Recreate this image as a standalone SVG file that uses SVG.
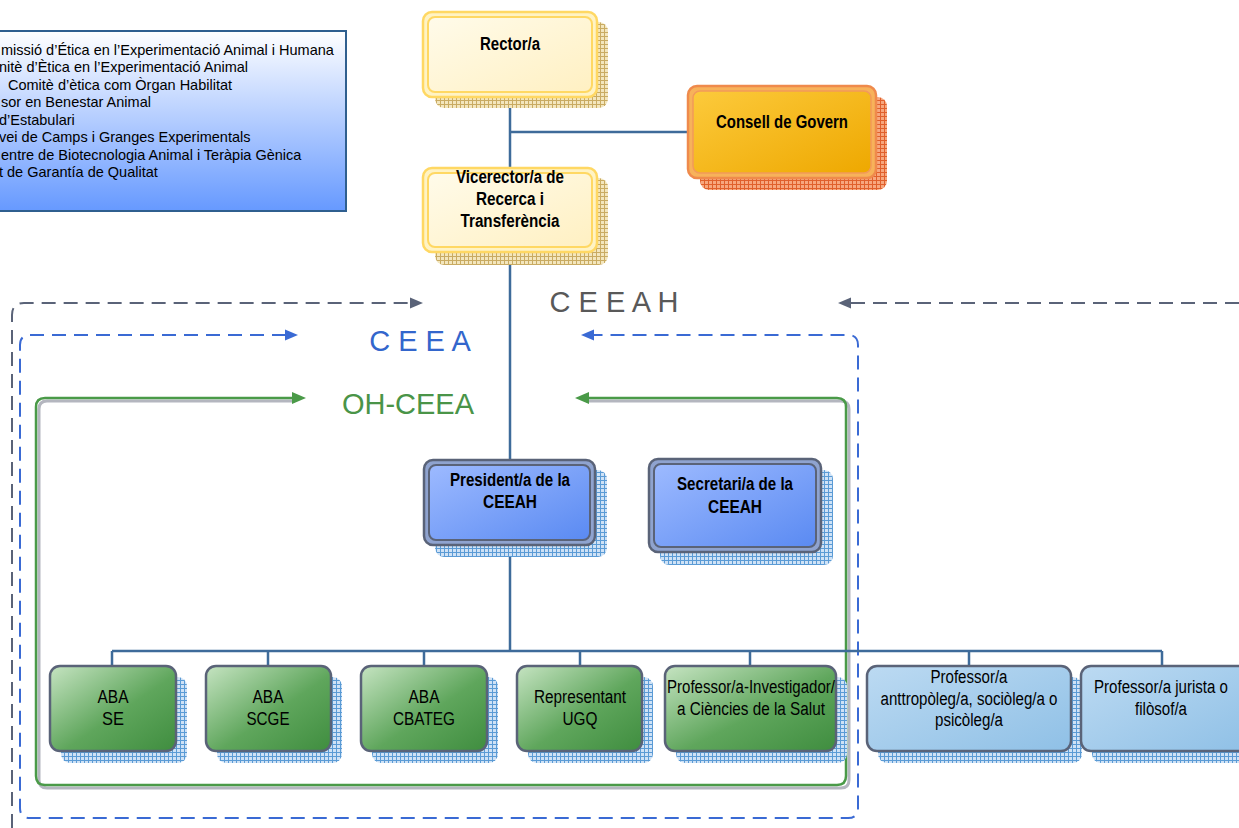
<svg xmlns="http://www.w3.org/2000/svg" width="1239" height="828" viewBox="0 0 1239 828">
<defs>
<style>
text{font-family:"Liberation Sans",Arial,sans-serif;fill:#000}
.b{font-weight:bold;font-size:18px;text-anchor:middle}
.n{font-size:18px;text-anchor:middle}
.lg{font-size:14.5px}
.big{font-size:29px;text-anchor:middle}
.conn{stroke:#3e6b9a;stroke-width:2.5;fill:none}
.gbox{stroke:#5a6378;stroke-width:2.5;fill:url(#gGreen)}
.lbox{stroke:#5a6378;stroke-width:2.5;fill:url(#gLight)}
.shB{fill:url(#hB)}
.shT{fill:url(#hT)}
.shO{fill:url(#hO)}
</style>
<pattern id="hB" width="4" height="4" patternUnits="userSpaceOnUse"><rect width="4" height="4" fill="#cfe2f6"/><path d="M0 0.5H4M0.5 0V4" stroke="#5b9bd5" stroke-width="1"/></pattern>
<pattern id="hT" width="4" height="4" patternUnits="userSpaceOnUse"><rect width="4" height="4" fill="#f3e6bd"/><path d="M0 0.5H4M0.5 0V4" stroke="#c9ab62" stroke-width="1"/></pattern>
<pattern id="hO" width="4" height="4" patternUnits="userSpaceOnUse"><rect width="4" height="4" fill="#f7a77e"/><path d="M0 0.5H4M0.5 0V4" stroke="#e0602c" stroke-width="1"/></pattern>
<linearGradient id="gLegend" x1="0" y1="0" x2="0" y2="1"><stop offset="0" stop-color="#ffffff"/><stop offset="1" stop-color="#6699ff"/></linearGradient>
<linearGradient id="gYellow" x1="0" y1="0" x2="1" y2="1"><stop offset="0" stop-color="#fffbea"/><stop offset="1" stop-color="#fff0c2"/></linearGradient>
<linearGradient id="gOrange" x1="0" y1="0" x2="1" y2="1"><stop offset="0" stop-color="#fcca3c"/><stop offset="1" stop-color="#eea800"/></linearGradient>
<linearGradient id="gBlue" x1="0" y1="0" x2="1" y2="1"><stop offset="0" stop-color="#9dbaff"/><stop offset="1" stop-color="#5a8af2"/></linearGradient>
<linearGradient id="gGreen" x1="0" y1="0" x2="1" y2="1"><stop offset="0" stop-color="#c6e4c2"/><stop offset="0.55" stop-color="#5fa65c"/><stop offset="1" stop-color="#3f8d3f"/></linearGradient>
<linearGradient id="gLight" x1="0" y1="0" x2="1" y2="1"><stop offset="0" stop-color="#bcdaf2"/><stop offset="1" stop-color="#8fc0e6"/></linearGradient>
</defs>

<g id="legend">
<rect x="-10" y="31" width="356" height="180" fill="url(#gLegend)" stroke="#2f5f8f" stroke-width="2"/>
<text class="lg" x="1" y="55">missió d’Ética en l’Experimentació Animal i Humana</text>
<text class="lg" x="-1" y="72">nitè d’Ètica en l’Experimentació Animal</text>
<text class="lg" x="8" y="90">Comitè d’ètica com Òrgan Habilitat</text>
<text class="lg" x="1" y="107">sor en Benestar Animal</text>
<text class="lg" x="-1" y="125">d’Estabulari</text>
<text class="lg" x="-1" y="142">vei de Camps i Granges Experimentals</text>
<text class="lg" x="1" y="160">entre de Biotecnologia Animal i Teràpia Gènica</text>
<text class="lg" x="-1" y="177">t de Garantía de Qualitat</text>
</g>

<g id="frames">
<path d="M12 828V315Q12 303 24 303H411" fill="none" stroke="#5a6378" stroke-width="2" stroke-dasharray="14 8"/>
<polygon points="423,303 410,297.5 410,308.5" fill="#5a6378"/>
<path d="M1239 303H850" fill="none" stroke="#5a6378" stroke-width="2" stroke-dasharray="14 8"/>
<polygon points="838,303 851,297.5 851,308.5" fill="#5a6378"/>
<text class="big" x="614" y="312" style="fill:#595959">C E E A H</text>
<path d="M286 335H30Q20 335 20 345V808Q20 818 30 818H848Q858 818 858 808V345Q858 335 848 335H593" fill="none" stroke="#3a6ad4" stroke-width="2" stroke-dasharray="14 8"/>
<polygon points="298,335 285,329.5 285,340.5" fill="#3a6ad4"/>
<polygon points="581,335 594,329.5 594,340.5" fill="#3a6ad4"/>
<text class="big" x="420" y="351" style="fill:#3366cc">C E E A</text>
<path d="M295 401H47Q39 401 39 409V780Q39 788 47 788H841Q849 788 849 780V409Q849 401 841 401H586" fill="none" stroke="#b4b6bf" stroke-width="3"/>
<path d="M293 398H45Q36 398 36 407V776Q36 785 45 785H837Q846 785 846 776V407Q846 398 837 398H588" fill="none" stroke="#4a9a48" stroke-width="2.5"/>
<polygon points="306,398 292,392 292,404" fill="#4a9a48"/>
<polygon points="575,398 589,392 589,404" fill="#4a9a48"/>
<text class="big" x="408" y="414" style="fill:#4a9448">OH-CEEA</text>
</g>

<g id="connectors">
<path class="conn" d="M510 97V168M510 132H688M510 252V460M510 545V651M112 651H1162M112 651V666M268 651V666M424 651V666M580 651V666M750 651V666M969 651V666M1162 651V666"/>
</g>

<g id="rector">
<rect class="shT" x="435" y="22" width="173" height="86" rx="9"/>
<rect x="423" y="12" width="174" height="85" rx="9" fill="#fff3c4" stroke="#ffd863" stroke-width="2.5"/>
<rect x="428" y="17" width="164" height="75" rx="7" fill="url(#gYellow)" stroke="#ffd863" stroke-width="2"/>
<text class="b" x="510" y="49.5" textLength="60" lengthAdjust="spacingAndGlyphs">Rector/a</text>
</g>

<g id="vicerector">
<rect class="shT" x="435" y="178" width="173" height="87" rx="9"/>
<rect x="423" y="168" width="174" height="84" rx="9" fill="#fff3c4" stroke="#ffd863" stroke-width="2.5"/>
<rect x="428" y="173" width="164" height="74" rx="7" fill="url(#gYellow)" stroke="#ffd863" stroke-width="2"/>
<text class="b" x="510" y="182.5" textLength="108" lengthAdjust="spacingAndGlyphs">Vicerector/a de</text>
<text class="b" x="510" y="205" textLength="68" lengthAdjust="spacingAndGlyphs">Recerca i</text>
<text class="b" x="510" y="226.5" textLength="99" lengthAdjust="spacingAndGlyphs">Transferència</text>
</g>

<g id="consell">
<rect class="shO" x="700" y="97" width="187" height="93" rx="9"/>
<rect x="688" y="86" width="188" height="92" rx="9" fill="#f7b25a" stroke="#ef8a4c" stroke-width="2.5"/>
<rect x="693" y="91" width="178" height="82" rx="7" fill="url(#gOrange)" stroke="#f29a5a" stroke-width="1.5"/>
<text class="b" x="782" y="127.5" textLength="132" lengthAdjust="spacingAndGlyphs">Consell de Govern</text>
</g>

<g id="president">
<rect class="shB" x="435" y="470" width="172" height="87" rx="9"/>
<rect x="424" y="460" width="171" height="85" rx="9" fill="#8fa3cf" stroke="#5a6378" stroke-width="2.5"/>
<rect x="429" y="465" width="161" height="75" rx="7" fill="url(#gBlue)" stroke="#5a6378" stroke-width="2"/>
<text class="b" x="510" y="485.5" textLength="120" lengthAdjust="spacingAndGlyphs">President/a de la</text>
<text class="b" x="510" y="507.5" textLength="54" lengthAdjust="spacingAndGlyphs">CEEAH</text>
</g>

<g id="secretari">
<rect class="shB" x="660" y="470" width="173" height="95" rx="9"/>
<rect x="649" y="459" width="172" height="93" rx="9" fill="#8fa3cf" stroke="#5a6378" stroke-width="2.5"/>
<rect x="654" y="464" width="162" height="83" rx="7" fill="url(#gBlue)" stroke="#5a6378" stroke-width="2"/>
<text class="b" x="735" y="489.5" textLength="116" lengthAdjust="spacingAndGlyphs">Secretari/a de la</text>
<text class="b" x="735" y="512.5" textLength="54" lengthAdjust="spacingAndGlyphs">CEEAH</text>
</g>

<g id="aba-se">
<rect class="shB" x="61" y="677" width="126" height="86" rx="9"/>
<rect class="gbox" x="50" y="666" width="126" height="85" rx="10"/>
<text class="n" x="113" y="702.5" textLength="31" lengthAdjust="spacingAndGlyphs">ABA</text>
<text class="n" x="113" y="724.5" textLength="22" lengthAdjust="spacingAndGlyphs">SE</text>
</g>

<g id="aba-scge">
<rect class="shB" x="217" y="677" width="125" height="86" rx="9"/>
<rect class="gbox" x="206" y="666" width="125" height="85" rx="10"/>
<text class="n" x="268" y="702.5" textLength="31" lengthAdjust="spacingAndGlyphs">ABA</text>
<text class="n" x="268" y="724.5" textLength="43" lengthAdjust="spacingAndGlyphs">SCGE</text>
</g>

<g id="aba-cbateg">
<rect class="shB" x="372" y="677" width="126" height="86" rx="9"/>
<rect class="gbox" x="361" y="666" width="126" height="85" rx="10"/>
<text class="n" x="424" y="702.5" textLength="31" lengthAdjust="spacingAndGlyphs">ABA</text>
<text class="n" x="424" y="724.5" textLength="62" lengthAdjust="spacingAndGlyphs">CBATEG</text>
</g>

<g id="representant">
<rect class="shB" x="528" y="677" width="125" height="86" rx="9"/>
<rect class="gbox" x="517" y="666" width="125" height="85" rx="10"/>
<text class="n" x="580" y="702.5" textLength="92" lengthAdjust="spacingAndGlyphs">Representant</text>
<text class="n" x="580" y="724.5" textLength="35" lengthAdjust="spacingAndGlyphs">UGQ</text>
</g>

<g id="prof-investigador">
<rect class="shB" x="676" y="677" width="171" height="86" rx="9"/>
<rect class="gbox" x="665" y="666" width="171" height="85" rx="10"/>
<text class="n" x="751" y="692.5" textLength="168" lengthAdjust="spacingAndGlyphs">Professor/a-Investigador/</text>
<text class="n" x="751" y="714.5" textLength="148" lengthAdjust="spacingAndGlyphs">a Ciències de la Salut</text>
</g>

<g id="prof-antropoleg">
<rect class="shB" x="878" y="677" width="204" height="86" rx="9"/>
<rect class="lbox" x="867" y="666" width="204" height="85" rx="10"/>
<text class="n" x="969" y="682.5" textLength="77" lengthAdjust="spacingAndGlyphs">Professor/a</text>
<text class="n" x="969" y="704.5" textLength="177" lengthAdjust="spacingAndGlyphs">anttropòleg/a, sociòleg/a o</text>
<text class="n" x="969" y="725.5" textLength="68" lengthAdjust="spacingAndGlyphs">psicòleg/a</text>
</g>

<g id="prof-jurista">
<rect class="shB" x="1092" y="677" width="168" height="86" rx="9"/>
<rect class="lbox" x="1081" y="666" width="168" height="85" rx="10"/>
<text class="n" x="1161" y="692.5" textLength="134" lengthAdjust="spacingAndGlyphs">Professor/a jurista o</text>
<text class="n" x="1161" y="714.5" textLength="52" lengthAdjust="spacingAndGlyphs">filòsof/a</text>
</g>
</svg>
